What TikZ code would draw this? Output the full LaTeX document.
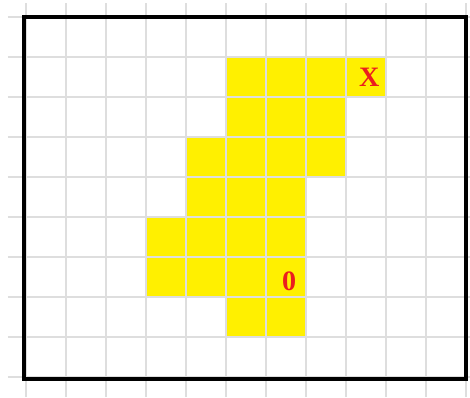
\documentclass[tikz,border=0pt]{standalone}
\usepackage{fontspec}
\setmainfont{Liberation Serif}
\definecolor{cellyellow}{RGB}{255,240,0}
\definecolor{gridgray}{RGB}{222,222,222}
\definecolor{markred}{RGB}{235,30,30}
\tikzset{
  cell/.style={fill=cellyellow, draw=none},
  gridline/.style={draw=gridgray, line width=0.75pt},
  frame/.style={draw=black, line width=3.2pt},
  celllabel/.style={text=markred, font=\bfseries\fontsize{20}{20}\selectfont, inner sep=0pt}
}
\begin{document}
\begin{tikzpicture}[x=1cm,y=1cm]
\useasboundingbox (-0.65,-0.5) rectangle (11.1,9.425);
% yellow cells
\fill[cell] (5,7) rectangle (9,8);
\fill[cell] (5,6) rectangle (8,7);
\fill[cell] (4,5) rectangle (8,6);
\fill[cell] (4,4) rectangle (7,5);
\fill[cell] (3,3) rectangle (7,4);
\fill[cell] (3,2) rectangle (7,3);
\fill[cell] (5,1) rectangle (7,2);
% grid
\foreach \y in {0,...,9} \draw[gridline] (-0.45,\y) -- (11.1,\y);
\foreach \x in {0,...,11} \draw[gridline] (\x,-0.5) -- (\x,9.35);
% frame
\draw[frame] (-0.05,-0.05) rectangle (11.0,9.0);
% labels
\node[celllabel] (goal) at (8.58,7.5) {X};
\node[celllabel] (start) at (6.58,2.4) {0};
\end{tikzpicture}
\end{document}
